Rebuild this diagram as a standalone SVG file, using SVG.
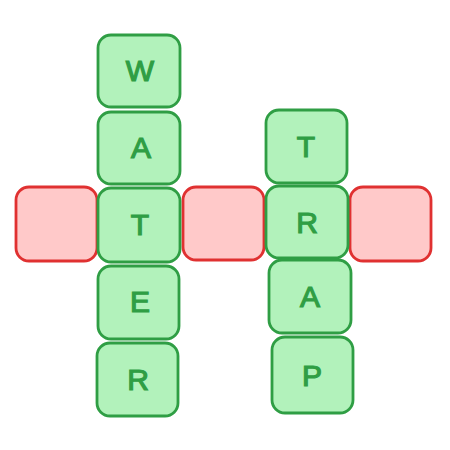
<svg xmlns="http://www.w3.org/2000/svg" width="450" height="450" viewBox="0 0 450 450">
<style>
.g rect{fill:#b2f2bb;stroke:#2f9e44;stroke-width:2.8}
.r rect{fill:#ffc9c9;stroke:#e03131;stroke-width:2.8}
text{font-family:"Liberation Sans",Arial,sans-serif;font-size:30px;fill:#2f9e44;stroke:#2f9e44;stroke-width:1.2;text-anchor:middle}
</style>
<rect width="450" height="450" fill="#ffffff"/>
<g id="red1" class="r"><rect x="16" y="187" width="81" height="74" rx="13"/></g>
<g id="red2" class="r"><rect x="183" y="187" width="81" height="73" rx="13"/></g>
<g id="red3" class="r"><rect x="350" y="187" width="81" height="74" rx="13"/></g>
<g id="W" class="g"><rect x="98" y="35" width="82" height="72" rx="13"/><text x="140" y="81">W</text></g>
<g id="A" class="g"><rect x="98" y="112" width="82" height="72" rx="13"/><text x="141" y="158">A</text></g>
<g id="T" class="g"><rect x="98" y="188" width="82" height="74" rx="13"/><text x="140" y="235">T</text></g>
<g id="E" class="g"><rect x="98" y="266" width="81" height="73" rx="13"/><text x="140" y="312">E</text></g>
<g id="R" class="g"><rect x="97" y="343" width="81" height="73" rx="13"/><text x="138" y="390">R</text></g>
<g id="T2" class="g"><rect x="266" y="110" width="81" height="73" rx="13"/><text x="306" y="157">T</text></g>
<g id="R2" class="g"><rect x="266" y="186" width="82" height="72" rx="13"/><text x="307" y="233">R</text></g>
<g id="A2" class="g"><rect x="269" y="260" width="82" height="73" rx="13"/><text x="310" y="307">A</text></g>
<g id="P" class="g"><rect x="272" y="337" width="81" height="76" rx="13"/><text x="312" y="386">P</text></g>
</svg>
